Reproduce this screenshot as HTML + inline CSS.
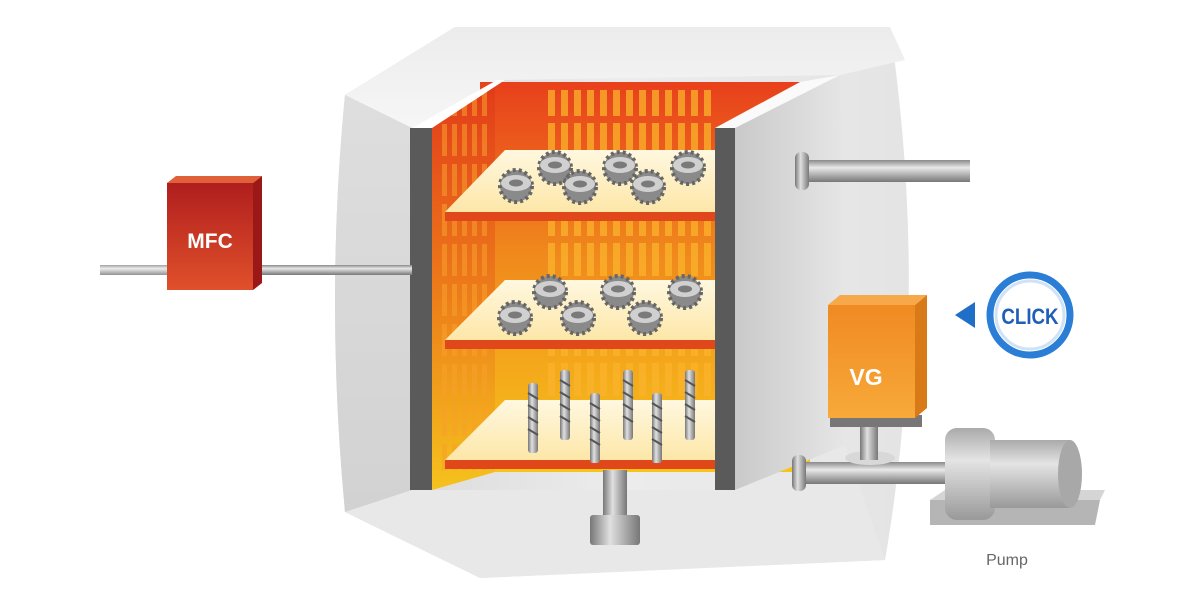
<!DOCTYPE html>
<html><head><meta charset="utf-8"><style>
html,body{margin:0;padding:0;background:#fff;width:1200px;height:610px;overflow:hidden}
svg{display:block}
text{font-family:"Liberation Sans",Arial,sans-serif}
</style></head><body>
<svg width="1200" height="610" viewBox="0 0 1200 610" xmlns="http://www.w3.org/2000/svg">
<defs>
<linearGradient id="bodyG" x1="0" y1="0" x2="1" y2="0">
<stop offset="0" stop-color="#d6d6d6"/><stop offset="0.5" stop-color="#ececec"/><stop offset="1" stop-color="#e4e4e4"/></linearGradient>
<linearGradient id="topG" x1="0" y1="0" x2="0" y2="1"><stop offset="0" stop-color="#ececec"/><stop offset="1" stop-color="#f6f6f6"/></linearGradient>
<linearGradient id="leftO" x1="0" y1="0" x2="0" y2="1"><stop offset="0" stop-color="#dedede"/><stop offset="1" stop-color="#d2d2d2"/></linearGradient>
<linearGradient id="rightG" x1="0" y1="0" x2="1" y2="0"><stop offset="0" stop-color="#c4c4c4"/><stop offset="1" stop-color="#e6e6e6"/></linearGradient>
<linearGradient id="backG" x1="0" y1="0" x2="0" y2="1"><stop offset="0" stop-color="#e8401c"/><stop offset="0.45" stop-color="#f08a1c"/><stop offset="1" stop-color="#f7c51a"/></linearGradient>
<linearGradient id="leftG" x1="0" y1="0" x2="0" y2="1"><stop offset="0" stop-color="#e23a1a"/><stop offset="0.5" stop-color="#ec7a1a"/><stop offset="1" stop-color="#f5c21c"/></linearGradient>
<linearGradient id="shelfG" x1="0" y1="0" x2="0" y2="1"><stop offset="0" stop-color="#fff8e0"/><stop offset="1" stop-color="#fde7a8"/></linearGradient>
<linearGradient id="pipeG" x1="0" y1="0" x2="0" y2="1"><stop offset="0" stop-color="#8a8a8a"/><stop offset="0.35" stop-color="#e8e8e8"/><stop offset="1" stop-color="#777"/></linearGradient>
<linearGradient id="pipeV" x1="0" y1="0" x2="1" y2="0"><stop offset="0" stop-color="#777"/><stop offset="0.4" stop-color="#e0e0e0"/><stop offset="1" stop-color="#777"/></linearGradient>
<linearGradient id="pumpG" x1="0" y1="0" x2="0" y2="1"><stop offset="0" stop-color="#aaa"/><stop offset="0.35" stop-color="#e4e4e4"/><stop offset="1" stop-color="#999"/></linearGradient>
<linearGradient id="mfcG" x1="0" y1="0" x2="0" y2="1"><stop offset="0" stop-color="#b01e1e"/><stop offset="1" stop-color="#e0502a"/></linearGradient>
<linearGradient id="vgG" x1="0" y1="0" x2="0" y2="1"><stop offset="0" stop-color="#f08a22"/><stop offset="1" stop-color="#f7a93a"/></linearGradient>
<pattern id="slots" x="0" y="0" width="13" height="40" patternUnits="userSpaceOnUse">
<rect x="2" y="3" width="7" height="33" fill="#fbb32a" opacity="0.75"/></pattern>
<pattern id="slotsL" x="0" y="0" width="10" height="40" patternUnits="userSpaceOnUse">
<rect x="2" y="4" width="5" height="32" fill="#f9a02a" opacity="0.7"/></pattern>
<clipPath id="lw"><polygon points="432,128 495,82 495,472 432,490"/></clipPath>
<g id="gear">
<circle r="16" fill="#8a8a8a" stroke="#666" stroke-width="4" stroke-dasharray="3 3"/>
<ellipse rx="15" ry="8" cy="-3" fill="#d0d0d0"/>
<ellipse rx="7" ry="3.5" cy="-3" fill="#7a7a7a"/>
</g>
<g id="bolt"><rect x="-5" y="0" width="10" height="70" rx="3" fill="url(#pipeV)"/>
<path d="M-5 10 L5 16 M-5 22 L5 28 M-5 34 L5 40 M-5 46 L5 52" stroke="#555" stroke-width="2"/></g>
</defs>

<!-- outer chamber -->
<path d="M345 95 L455 27 L890 27 Q930 300 885 560 L480 578 L345 512 Q325 300 345 95 Z" fill="url(#bodyG)"/>
<path d="M455 27 L890 27 L905 60 L840 75 L500 80 L412 128 L345 95 Z" fill="url(#topG)"/>
<path d="M345 95 L412 128 L412 490 L345 512 Q325 300 345 95Z" fill="url(#leftO)"/>
<path d="M412 490 L735 490 L845 445 L885 560 L480 578 L345 512 Z" fill="#e8e8e8"/>
<!-- interior -->
<rect x="480" y="82" width="330" height="390" fill="url(#backG)"/>
<rect x="545" y="90" width="170" height="375" fill="url(#slots)"/>
<polygon points="432,128 495,82 495,472 432,490" fill="url(#leftG)"/>
<g clip-path="url(#lw)"><rect x="440" y="90" width="50" height="380" fill="url(#slotsL)" opacity="0.8"/></g>
<!-- shelves -->
<polygon points="445,212 715,212 715,150 505,150" fill="url(#shelfG)"/>
<rect x="445" y="212" width="270" height="9" fill="#e0481c"/>
<polygon points="445,340 715,340 715,280 505,280" fill="url(#shelfG)"/>
<rect x="445" y="340" width="270" height="9" fill="#e0481c"/>
<polygon points="445,460 715,460 715,400 505,400" fill="url(#shelfG)"/>
<rect x="445" y="460" width="270" height="9" fill="#e0481c"/>
<!-- gears -->
<use href="#gear" x="555" y="168"/><use href="#gear" x="620" y="168"/><use href="#gear" x="688" y="168"/>
<use href="#gear" x="516" y="186"/><use href="#gear" x="580" y="187"/><use href="#gear" x="648" y="187"/>
<use href="#gear" x="550" y="292"/><use href="#gear" x="618" y="292"/><use href="#gear" x="685" y="292"/>
<use href="#gear" x="515" y="318"/><use href="#gear" x="578" y="318"/><use href="#gear" x="645" y="318"/>
<use href="#bolt" x="533" y="383"/><use href="#bolt" x="565" y="370"/><use href="#bolt" x="595" y="393"/>
<use href="#bolt" x="628" y="370"/><use href="#bolt" x="657" y="393"/><use href="#bolt" x="690" y="370"/>
<!-- front frames -->
<polygon points="412,128 497,80 505,80 432,128" fill="#fff"/>
<rect x="410" y="128" width="22" height="362" fill="#5a5a5a"/>
<polygon points="715,128 840,75 845,445 735,490 715,490" fill="url(#rightG)"/>
<polygon points="715,128 800,82 840,75 735,128" fill="#fafafa"/>
<rect x="715" y="128" width="20" height="362" fill="#5a5a5a"/>
<!-- post -->
<rect x="603" y="470" width="24" height="50" fill="url(#pipeV)"/>
<rect x="590" y="515" width="50" height="30" rx="3" fill="url(#pipeV)"/>
<!-- top right pipe -->
<rect x="805" y="160" width="165" height="22" fill="url(#pipeG)"/>
<rect x="795" y="152" width="14" height="38" rx="6" fill="url(#pipeV)"/>
<!-- MFC -->
<rect x="100" y="265" width="70" height="10" fill="url(#pipeG)" opacity="0.8"/>
<rect x="255" y="265" width="157" height="10" fill="url(#pipeG)"/>
<polygon points="167,183 176,176 262,176 253,183" fill="#e0603a"/>
<polygon points="253,183 262,176 262,283 253,290" fill="#9a1818"/>
<rect x="167" y="183" width="86" height="107" fill="url(#mfcG)"/>
<text x="210" y="248" font-size="21" font-weight="bold" fill="#fff" text-anchor="middle">MFC</text>
<!-- VG / pump -->
<rect x="800" y="462" width="145" height="22" fill="url(#pipeG)"/>
<rect x="792" y="455" width="14" height="36" rx="6" fill="url(#pipeV)"/>
<ellipse cx="870" cy="458" rx="25" ry="7" fill="#d8d8d8"/>
<rect x="860" y="425" width="18" height="35" fill="url(#pipeV)"/>
<rect x="830" y="415" width="92" height="12" fill="#777"/>
<polygon points="828,305 840,295 927,295 915,305" fill="#f7a84a"/>
<polygon points="915,305 927,295 927,408 915,418" fill="#d97a18"/>
<rect x="828" y="305" width="87" height="113" fill="url(#vgG)"/>
<text x="866" y="385" font-size="23" font-weight="bold" fill="#fff" text-anchor="middle">VG</text>
<polygon points="930,500 1100,500 1095,525 930,525" fill="#b5b5b5"/>
<polygon points="945,490 1105,490 1100,500 930,500" fill="#d5d5d5"/>
<rect x="945" y="428" width="50" height="92" rx="12" fill="url(#pumpG)"/>
<rect x="990" y="440" width="80" height="68" fill="url(#pumpG)"/>
<ellipse cx="1070" cy="474" rx="12" ry="34" fill="#a8a8a8"/>
<text x="1007" y="565" font-size="16" fill="#666" text-anchor="middle">Pump</text>
<!-- click -->
<polygon points="955,315 975,302 975,328" fill="#1f6fc8"/>
<circle cx="1030" cy="315" r="40" fill="#fff" stroke="#2a7ed6" stroke-width="7"/>
<circle cx="1030" cy="315" r="34" fill="none" stroke="#cfe2f6" stroke-width="3"/>
<text x="1030" y="324" font-size="22" font-weight="bold" fill="#1f5fb8" text-anchor="middle" transform="translate(1030 0) scale(0.85 1) translate(-1030 0)">CLICK</text>
</svg>
</body></html>
